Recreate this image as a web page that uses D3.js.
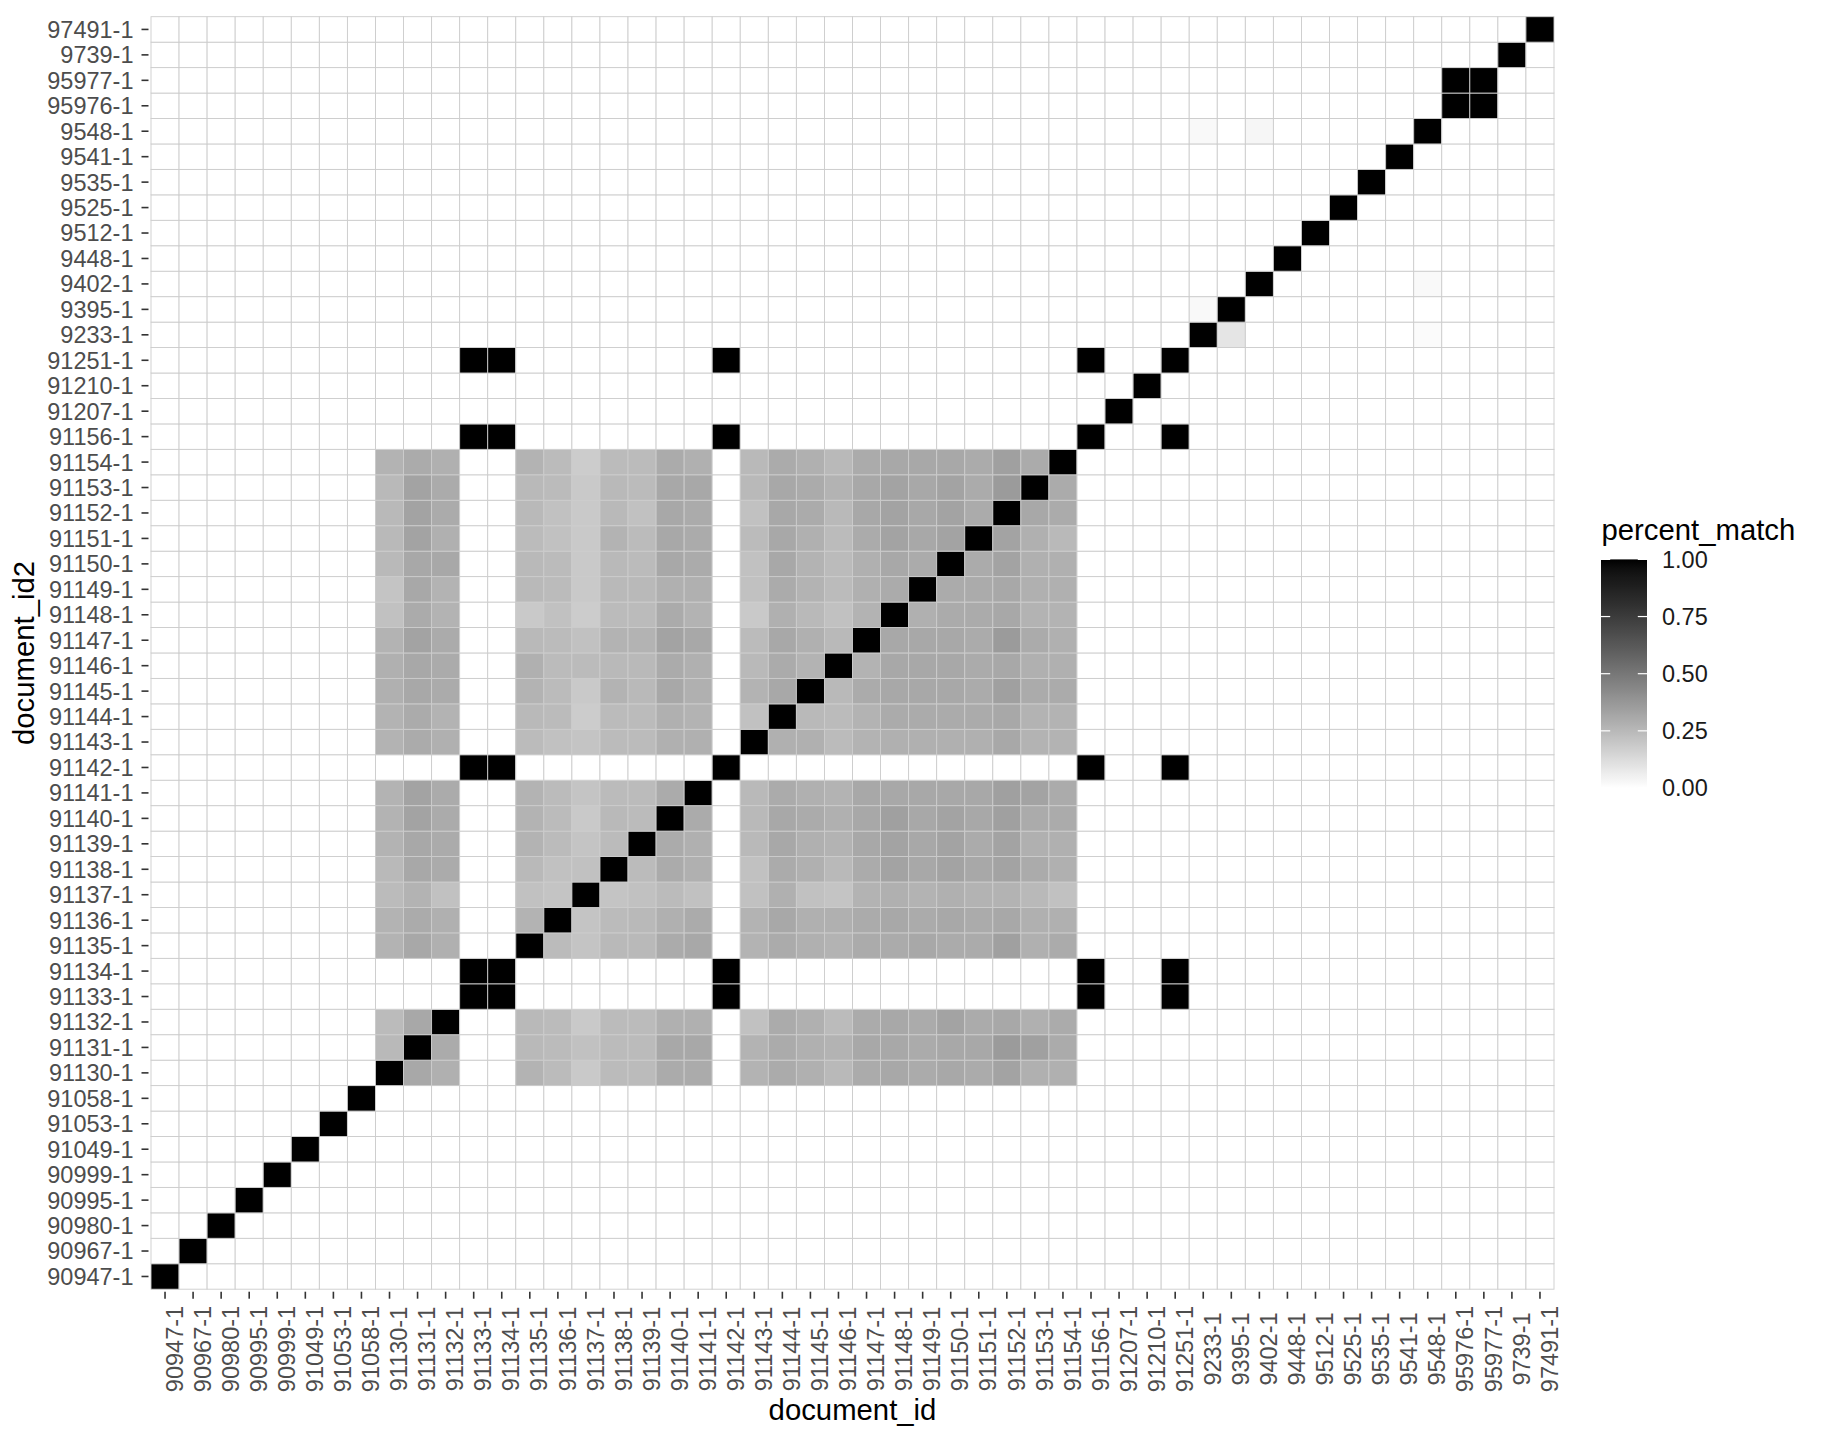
<!DOCTYPE html>
<html>
<head>
<meta charset="utf-8">
<script src="https://cdn.jsdelivr.net/npm/d3@7"></script>
<style>
  html, body { margin: 0; padding: 0; background: #ffffff; }
  svg { display: block; }
  text { font-family: "Liberation Sans", Arial, Helvetica, sans-serif; }
</style>
</head>
<body>
<svg id="chart" width="1824" height="1440"></svg>
<script>
// ---------------- data ----------------
const documentIds = ["90947-1","90967-1","90980-1","90995-1","90999-1","91049-1","91053-1","91058-1",
  "91130-1","91131-1","91132-1","91133-1","91134-1","91135-1","91136-1","91137-1","91138-1","91139-1",
  "91140-1","91141-1","91142-1","91143-1","91144-1","91145-1","91146-1","91147-1","91148-1","91149-1",
  "91150-1","91151-1","91152-1","91153-1","91154-1","91156-1","91207-1","91210-1","91251-1","9233-1",
  "9395-1","9402-1","9448-1","9512-1","9525-1","9535-1","9541-1","9548-1","95976-1","95977-1","9739-1","97491-1"];

// group of documents that fully match each other
const cliqueIds = ["91133-1","91134-1","91142-1","91156-1","91251-1"];
const pairIds = ["95976-1","95977-1"];

// partially matching block: rows = document_id2, columns = document_id
const blockIds = ["91130-1","91131-1","91132-1","91135-1","91136-1","91137-1","91138-1","91139-1",
  "91140-1","91141-1","91143-1","91144-1","91145-1","91146-1","91147-1","91148-1","91149-1","91150-1",
  "91151-1","91152-1","91153-1","91154-1"];
const blockValues = [
  [1.00,0.31,0.28,0.27,0.24,0.19,0.24,0.24,0.30,0.30,0.27,0.30,0.28,0.25,0.30,0.31,0.30,0.31,0.30,0.33,0.28,0.28],
  [0.25,1.00,0.30,0.25,0.24,0.22,0.24,0.24,0.31,0.31,0.27,0.30,0.28,0.27,0.31,0.31,0.30,0.31,0.31,0.36,0.34,0.30],
  [0.24,0.31,1.00,0.25,0.24,0.19,0.24,0.24,0.28,0.28,0.22,0.30,0.28,0.24,0.30,0.31,0.30,0.33,0.30,0.31,0.28,0.30],
  [0.27,0.31,0.28,1.00,0.24,0.21,0.25,0.25,0.30,0.31,0.27,0.30,0.28,0.27,0.30,0.30,0.31,0.30,0.30,0.34,0.28,0.30],
  [0.27,0.30,0.28,0.27,1.00,0.21,0.24,0.25,0.28,0.30,0.27,0.31,0.28,0.28,0.30,0.31,0.30,0.31,0.30,0.31,0.28,0.28],
  [0.24,0.27,0.22,0.22,0.21,1.00,0.21,0.22,0.24,0.22,0.22,0.28,0.22,0.21,0.27,0.28,0.27,0.28,0.27,0.27,0.25,0.22],
  [0.25,0.31,0.30,0.25,0.22,0.22,1.00,0.24,0.30,0.28,0.22,0.30,0.28,0.25,0.30,0.33,0.31,0.33,0.31,0.33,0.30,0.28],
  [0.27,0.31,0.30,0.27,0.24,0.21,0.24,1.00,0.30,0.28,0.25,0.31,0.28,0.27,0.31,0.33,0.31,0.33,0.30,0.33,0.28,0.28],
  [0.27,0.33,0.30,0.27,0.24,0.19,0.25,0.24,1.00,0.30,0.25,0.31,0.30,0.28,0.31,0.34,0.31,0.33,0.31,0.34,0.30,0.30],
  [0.27,0.33,0.30,0.27,0.24,0.21,0.24,0.24,0.30,1.00,0.25,0.30,0.28,0.27,0.31,0.31,0.31,0.31,0.31,0.34,0.33,0.30],
  [0.27,0.30,0.28,0.24,0.22,0.21,0.24,0.24,0.28,0.28,1.00,0.28,0.28,0.24,0.27,0.28,0.28,0.28,0.28,0.31,0.27,0.27],
  [0.27,0.30,0.27,0.25,0.24,0.18,0.24,0.24,0.28,0.27,0.22,1.00,0.25,0.24,0.27,0.30,0.30,0.30,0.30,0.31,0.27,0.27],
  [0.28,0.31,0.30,0.27,0.24,0.19,0.27,0.25,0.31,0.28,0.27,0.31,1.00,0.25,0.30,0.31,0.31,0.31,0.30,0.34,0.30,0.30],
  [0.28,0.31,0.30,0.28,0.24,0.24,0.25,0.25,0.30,0.28,0.25,0.30,0.27,1.00,0.27,0.31,0.31,0.31,0.30,0.31,0.28,0.28],
  [0.27,0.33,0.30,0.25,0.24,0.22,0.27,0.27,0.33,0.31,0.24,0.31,0.28,0.25,1.00,0.31,0.31,0.31,0.30,0.36,0.30,0.28],
  [0.22,0.30,0.27,0.19,0.22,0.18,0.24,0.24,0.30,0.27,0.19,0.28,0.25,0.22,0.27,1.00,0.28,0.30,0.30,0.31,0.27,0.27],
  [0.21,0.31,0.27,0.25,0.24,0.19,0.25,0.25,0.28,0.28,0.22,0.30,0.27,0.24,0.28,0.30,1.00,0.30,0.30,0.31,0.28,0.28],
  [0.25,0.31,0.31,0.25,0.24,0.19,0.25,0.24,0.31,0.30,0.22,0.31,0.27,0.24,0.28,0.31,0.30,1.00,0.30,0.33,0.28,0.28],
  [0.25,0.33,0.28,0.24,0.22,0.19,0.27,0.24,0.31,0.30,0.24,0.31,0.28,0.24,0.30,0.33,0.31,0.33,1.00,0.33,0.28,0.25],
  [0.25,0.33,0.30,0.25,0.22,0.19,0.25,0.22,0.31,0.30,0.22,0.31,0.30,0.25,0.31,0.33,0.31,0.33,0.30,1.00,0.31,0.30],
  [0.25,0.33,0.30,0.25,0.24,0.19,0.25,0.24,0.31,0.31,0.25,0.31,0.30,0.27,0.31,0.33,0.31,0.33,0.30,0.36,1.00,0.30],
  [0.27,0.30,0.28,0.27,0.24,0.18,0.24,0.24,0.30,0.28,0.25,0.30,0.28,0.25,0.30,0.31,0.31,0.31,0.30,0.34,0.30,1.00]
];

// faint matches (document_id2, document_id, value)
const lowRows   = ["9548-1","9548-1","9402-1","9395-1","9233-1","9233-1"];
const lowCols   = ["9233-1","9402-1","9548-1","9233-1","9395-1","9548-1"];
const lowValues = [0.02, 0.03, 0.02, 0.02, 0.09, 0.015];

const legendBreaks = [0, 0.25, 0.5, 0.75, 1];
const legendLabels = ["0.00", "0.25", "0.50", "0.75", "1.00"];

// ---------------- build cells ----------------
const lookup = new Map();
const key = (r, c) => r + "|" + c;
documentIds.forEach(id => lookup.set(key(id, id), 1));
cliqueIds.forEach(r => cliqueIds.forEach(c => lookup.set(key(r, c), 1)));
pairIds.forEach(r => pairIds.forEach(c => lookup.set(key(r, c), 1)));
blockIds.forEach((r, i) => blockIds.forEach((c, j) => lookup.set(key(r, c), blockValues[i][j])));
lowRows.forEach((r, i) => lookup.set(key(r, lowCols[i]), lowValues[i]));

const cells = [];
documentIds.forEach(r => documentIds.forEach(c => {
  cells.push({ id2: r, id: c, v: lookup.has(key(r, c)) ? lookup.get(key(r, c)) : 0 });
}));

// ---------------- layout ----------------
const panel = { left: 151, right: 1554, top: 16.7, bottom: 1289.2 };
const svg = d3.select("#chart");

const x = d3.scaleBand().domain(documentIds).range([panel.left, panel.right]).padding(0);
const y = d3.scaleBand().domain(documentIds).range([panel.bottom, panel.top]).padding(0);
const color = d3.scaleLinear().domain([0, 1]).range(["#ffffff", "#000000"]).interpolate(d3.interpolateLab);

// tiles
svg.append("g").selectAll("rect").data(cells).join("rect")
  .attr("x", d => x(d.id))
  .attr("y", d => y(d.id2))
  .attr("width", x.bandwidth())
  .attr("height", y.bandwidth())
  .attr("fill", d => color(d.v))
  .attr("stroke", "#cccccc")
  .attr("stroke-width", 0.9);

// x axis
const fontAxis = 23.5;
const xAxis = svg.append("g")
  .attr("transform", `translate(0, ${panel.bottom + 2.5})`)
  .call(d3.axisBottom(x).tickSize(7).tickPadding(0));
xAxis.select(".domain").remove();
xAxis.selectAll(".tick line").attr("stroke", "#333333").attr("stroke-width", 1.6);
xAxis.selectAll(".tick text")
  .attr("fill", "#4d4d4d")
  .attr("font-size", fontAxis)
  .attr("text-anchor", "middle")
  .attr("x", 0).attr("y", 0)
  .attr("dy", "0.71em")
  .attr("transform", `translate(1, ${1349 - panel.bottom - 2.5}) rotate(-90)`);

// y axis
const yAxis = svg.append("g")
  .attr("transform", `translate(${panel.left - 2.5}, 0)`)
  .call(d3.axisLeft(y).tickSize(7).tickPadding(8));
yAxis.select(".domain").remove();
yAxis.selectAll(".tick line").attr("stroke", "#333333").attr("stroke-width", 1.6);
yAxis.selectAll(".tick text")
  .attr("fill", "#4d4d4d")
  .attr("font-size", fontAxis)
  .attr("dy", "0.36em");

// axis titles
svg.append("text")
  .attr("x", (panel.left + panel.right) / 2)
  .attr("y", 1420)
  .attr("text-anchor", "middle")
  .attr("font-size", 29.3)
  .attr("fill", "#000000")
  .text("document_id");

svg.append("text")
  .attr("transform", `translate(34, ${(panel.top + panel.bottom) / 2}) rotate(-90)`)
  .attr("text-anchor", "middle")
  .attr("font-size", 29.3)
  .attr("fill", "#000000")
  .text("document_id2");

// ---------------- legend ----------------
const leg = { x: 1601, w: 46, top: 559.4, bottom: 788 };
const ly = d3.scaleLinear().domain([0, 1]).range([leg.bottom, leg.top]);

const defs = svg.append("defs");
const grad = defs.append("linearGradient")
  .attr("id", "legendGrad")
  .attr("x1", 0).attr("y1", 1).attr("x2", 0).attr("y2", 0);
d3.range(0, 1.0001, 0.02).forEach(t => {
  grad.append("stop").attr("offset", t).attr("stop-color", color(t));
});

svg.append("text")
  .attr("x", 1601.5)
  .attr("y", 540)
  .attr("font-size", 29.3)
  .attr("fill", "#000000")
  .text("percent_match");

svg.append("rect")
  .attr("x", leg.x).attr("y", leg.top)
  .attr("width", leg.w).attr("height", leg.bottom - leg.top)
  .attr("fill", "url(#legendGrad)");

const tickLen = leg.w / 5;
const legTicks = svg.append("g");
legendBreaks.forEach(b => {
  legTicks.append("line")
    .attr("x1", leg.x).attr("x2", leg.x + tickLen)
    .attr("y1", ly(b)).attr("y2", ly(b))
    .attr("stroke", "#ffffff").attr("stroke-width", 1.2);
  legTicks.append("line")
    .attr("x1", leg.x + leg.w - tickLen).attr("x2", leg.x + leg.w)
    .attr("y1", ly(b)).attr("y2", ly(b))
    .attr("stroke", "#ffffff").attr("stroke-width", 1.2);
});

svg.append("g").selectAll("text").data(legendBreaks).join("text")
  .attr("x", 1662)
  .attr("y", d => ly(d))
  .attr("dy", "0.36em")
  .attr("font-size", fontAxis)
  .attr("fill", "#1a1a1a")
  .text((d, i) => legendLabels[i]);
</script>
</body>
</html>
